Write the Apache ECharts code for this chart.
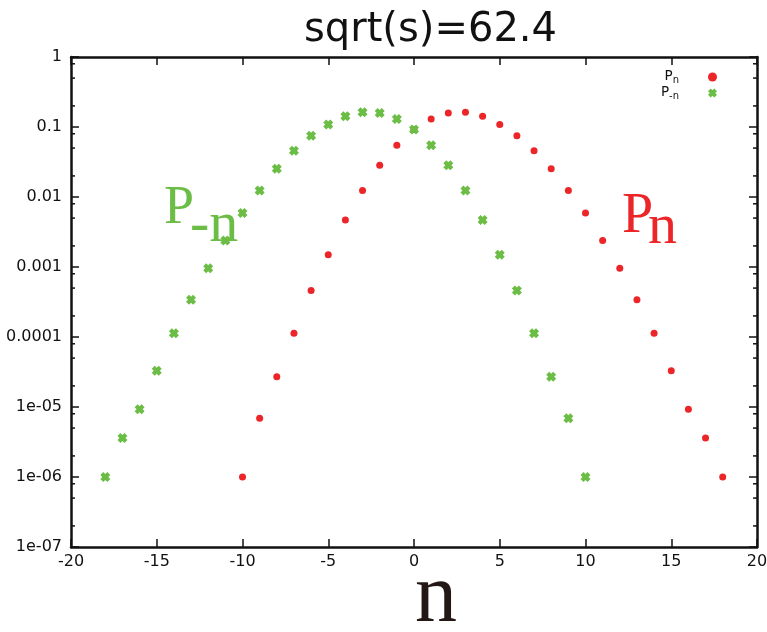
<!DOCTYPE html>
<html>
<head>
<meta charset="utf-8">
<script src="https://cdn.jsdelivr.net/npm/echarts@6/dist/echarts.min.js"></script>
<style>
  html, body { margin: 0; padding: 0; background: #fff; }
  #chart { width: 767px; height: 632px; }
</style>
</head>
<body>
<div id="chart"></div>
<script>
// Multiplicity distributions P_n and P_-n at sqrt(s) = 62.4
const nPos = [-10, -9, -8, -7, -6, -5, -4, -3, -2, -1, 0, 1, 2, 3, 4, 5, 6, 7, 8, 9,
              10, 11, 12, 13, 14, 15, 16, 17, 18];
const pPos = [1.0e-6, 6.9e-6, 2.7e-5, 1.13e-4, 4.6e-4, 1.5e-3, 4.7e-3, 0.0124, 0.0284, 0.055,
              0.092, 0.130, 0.158, 0.162, 0.142, 0.109, 0.075, 0.0457, 0.0254, 0.0124,
              0.0059, 0.0024, 9.6e-4, 3.4e-4, 1.13e-4, 3.3e-5, 9.3e-6, 3.6e-6, 1.0e-6];

const nNeg = [-18, -17, -16, -15, -14, -13, -12, -11, -10, -9, -8, -7, -6, -5, -4, -3, -2, -1,
              0, 1, 2, 3, 4, 5, 6, 7, 8, 9, 10];
const pNeg = [1.0e-6, 3.6e-6, 9.3e-6, 3.3e-5, 1.13e-4, 3.4e-4, 9.6e-4, 0.0024, 0.0059,
              0.0124, 0.0254, 0.0457, 0.075, 0.109, 0.142, 0.162, 0.158, 0.130, 0.092,
              0.055, 0.0284, 0.0124, 4.7e-3, 1.5e-3, 4.6e-4, 1.13e-4, 2.7e-5, 6.9e-6, 1.0e-6];

const yTickLabels = ['1e-07', '1e-06', '1e-05', '0.0001', '0.001', '0.01', '0.1', '1'];
const xMin = -20, xMax = 20, xStep = 5;
const yMin = 1e-7, yMax = 1;

const RED = '#ec2528';
const GREEN = '#6bbd45';
const INK = '#111';

// minor ticks at 2, 5 and 8 within each decade
const minorTicks = [];
for (let e = -7; e < 0; e++) {
  [2, 5, 8].forEach(m => minorTicks.push([m * Math.pow(10, e)]));
}

// chunky "x" marker
const crossPath = 'path://M0,3L3,0L5,2L7,0L10,3L8,5L10,7L7,10L5,8L3,10L0,7L2,5Z';

const chart = echarts.init(document.getElementById('chart'), null, { renderer: 'canvas' });

const frame = { show: true, onZero: false, lineStyle: { color: INK, width: 2.5 } };
const tick = { show: true, inside: true, length: 8, lineStyle: { color: INK, width: 1.5 } };
const labelFont = 'DejaVu Sans';

const legendRich = {
  p: { fontSize: 13.5, fontFamily: labelFont, color: INK, verticalAlign: 'top', lineHeight: 16 },
  s: { fontSize: 10, fontFamily: labelFont, color: INK, verticalAlign: 'bottom', lineHeight: 16, padding: [6, 0, 0, 0] },
  g: { width: 24 }
};

chart.setOption({
  animation: false,
  backgroundColor: '#fff',
  title: {
    text: 'sqrt(s)=62.4',
    left: 299,
    top: 6,
    textStyle: { fontFamily: labelFont, fontWeight: 'normal', fontSize: 40, color: INK }
  },
  legend: {
    orient: 'vertical',
    right: 45,
    top: 64,
    align: 'right',
    itemGap: 0,
    itemWidth: 9,
    itemHeight: 9,
    data: ['P_n', 'P_-n'],
    formatter: name => name === 'P_n' ? '{p|P}{s|n}{g|}' : '{p|P}{s|-n}{g|}',
    textStyle: { rich: legendRich }
  },
  grid: { left: 71, right: 10, top: 57, bottom: 85, outerBoundsMode: 'none' },
  xAxis: [
    {
      type: 'value', min: xMin, max: xMax, interval: xStep, position: 'bottom',
      axisLine: frame, axisTick: tick, splitLine: { show: false },
      axisLabel: { fontFamily: labelFont, fontSize: 16, color: INK, margin: 7 },
      name: 'n', nameLocation: 'middle', nameGap: 10, nameMoveOverlap: false,
      nameTextStyle: { fontFamily: 'Liberation Serif', fontSize: 84, color: '#231815', padding: [0, 0, 0, 44] }
    },
    {
      type: 'value', min: xMin, max: xMax, interval: xStep, position: 'top',
      axisLine: frame, axisTick: tick, splitLine: { show: false }, axisLabel: { show: false }
    }
  ],
  yAxis: [
    {
      type: 'log', logBase: 10, min: yMin, max: yMax, interval: 1, position: 'left',
      axisLine: frame, axisTick: tick, splitLine: { show: false },
      axisLabel: {
        fontFamily: labelFont, fontSize: 16, color: INK, margin: 9,
        formatter: v => yTickLabels[Math.round(Math.log10(v)) + 7]
      }
    },
    {
      type: 'log', logBase: 10, min: yMin, max: yMax, interval: 1, position: 'right',
      axisLine: frame, axisTick: tick, splitLine: { show: false }, axisLabel: { show: false }
    }
  ],
  graphic: [
    { type: 'text', left: 622, top: 189, style: { text: 'P', font: '56px "Liberation Serif"', fill: RED } },
    { type: 'text', left: 648, top: 199, style: { text: 'n', font: '58px "Liberation Serif"', fill: RED } },
    { type: 'text', left: 164, top: 182, style: { text: 'P', font: '54px "Liberation Serif"', fill: GREEN } },
    { type: 'text', left: 190, top: 197, style: { text: '-n', font: '58px "Liberation Serif"', fill: GREEN } }
  ],
  series: [
    {
      type: 'custom',
      name: 'minor ticks',
      silent: true,
      xAxisIndex: 0, yAxisIndex: 0,
      data: minorTicks,
      encode: { y: 0 },
      renderItem: (params, api) => {
        const v = api.value(0);
        const a = api.coord([xMin, v]);
        const b = api.coord([xMax, v]);
        const st = { stroke: INK, lineWidth: 1.5 };
        return {
          type: 'group',
          children: [
            { type: 'line', shape: { x1: a[0], y1: a[1], x2: a[0] + 4, y2: a[1] }, style: st },
            { type: 'line', shape: { x1: b[0] - 4, y1: b[1], x2: b[0], y2: b[1] }, style: st }
          ]
        };
      }
    },
    {
      type: 'scatter', name: 'P_n',
      data: nPos.map((n, i) => [n, pPos[i]]),
      symbol: 'circle', symbolSize: 7,
      itemStyle: { color: RED, opacity: 1 }
    },
    {
      type: 'scatter', name: 'P_-n',
      data: nNeg.map((n, i) => [n, pNeg[i]]),
      symbol: crossPath, symbolSize: 10,
      itemStyle: { color: GREEN, opacity: 1 }
    }
  ]
});
</script>
</body>
</html>
